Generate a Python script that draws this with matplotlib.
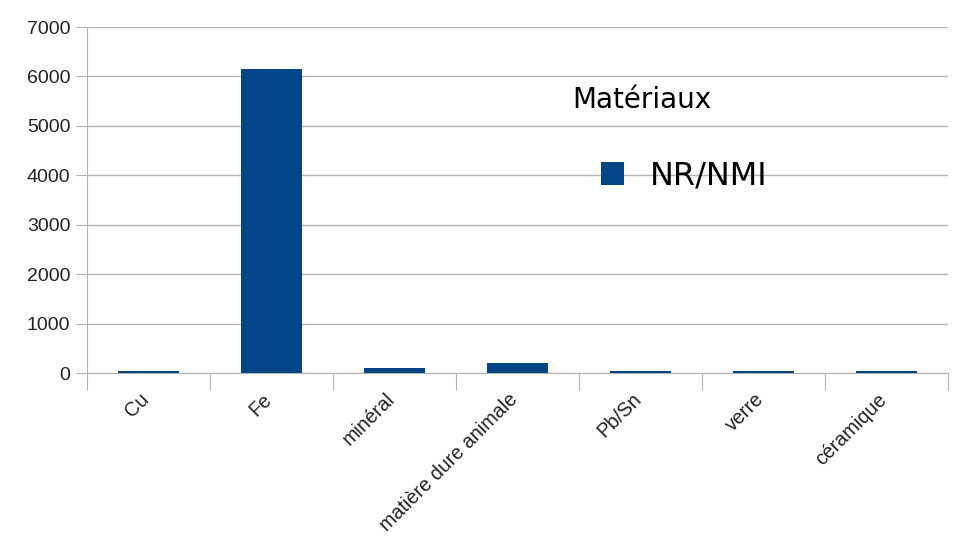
import matplotlib.pyplot as plt
import matplotlib.transforms as mtransforms
import numpy as np

categories = ['Cu', 'Fe', 'minéral', 'matière dure animale', 'Pb/Sn', 'verre', 'céramique']
values = [45, 6150, 100, 200, 45, 45, 45]
series_name = 'NR/NMI'
legend_title = 'Matériaux'

plt.rcParams['font.family'] = ['Liberation Sans', 'DejaVu Sans']

fig = plt.figure(figsize=(9.54, 5.45), dpi=100)
ax = fig.add_axes([87 / 954, 1 - 373 / 545, 861 / 954, 346 / 545])

x = np.arange(len(categories))
bars = ax.bar(x, values, width=0.5, color='#004586', label=series_name, zorder=3)

ax.set_xlim(-0.5, len(categories) - 0.5)
ax.set_ylim(0, 7000)
ax.set_yticks(np.arange(0, 7001, 1000))
ax.yaxis.grid(True, color='#b3b3b3', linewidth=1)
ax.set_axisbelow(True)

# ticks on the category boundaries, labels centered under the bars
ax.set_xticks(np.arange(len(categories) + 1) - 0.5)
ax.set_xticklabels([])
ax.set_xticks(x, minor=True)
ax.set_xticklabels(categories, minor=True, rotation=45, ha='right',
                   rotation_mode='anchor', fontsize=14.2, color='#222222')
ax.tick_params(axis='x', which='minor', length=0, pad=12)
ax.tick_params(axis='x', which='major', length=12, color='#b3b3b3')
ax.tick_params(axis='y', length=8, color='#b3b3b3', labelsize=14,
               labelcolor='#222222', pad=4)
shift = mtransforms.ScaledTranslation(-0.09, 0, fig.dpi_scale_trans)
for lab in ax.get_xticklabels(minor=True):
    lab.set_transform(lab.get_transform() + shift)

for s in ['top', 'right']:
    ax.spines[s].set_visible(False)
ax.spines['left'].set_color('#b3b3b3')
ax.spines['bottom'].set_color('#b3b3b3')

fig.text(572 / 954, 1 - 108 / 545, legend_title, fontsize=20,
         family=['DejaVu Sans'], va='baseline', ha='left')
ax.legend(handles=[bars], loc='center left', frameon=False,
          bbox_to_anchor=(601 / 954, 1 - 176 / 545),
          bbox_transform=fig.transFigure, borderpad=0, borderaxespad=0,
          handlelength=0.72, handleheight=0.72, handletextpad=0.8,
          prop={'family': 'DejaVu Sans', 'size': 23})

fig.savefig('out.png', dpi=100)
